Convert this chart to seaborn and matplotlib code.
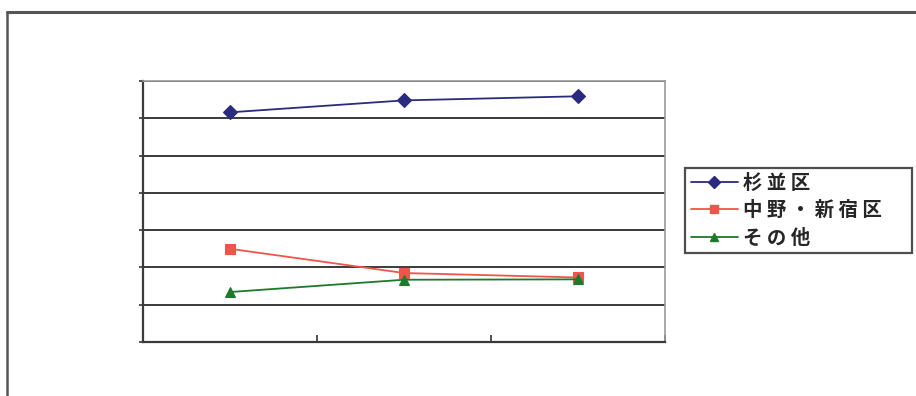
import matplotlib
matplotlib.use("Agg")
import matplotlib.pyplot as plt
from matplotlib.lines import Line2D
import seaborn as sns
import pandas as pd

# Share (%) by area across three periods
periods = ["1", "2", "3"]
suginami = [61.6, 64.8, 65.9]
nakano_shinjuku = [25.0, 18.5, 17.3]
others = [13.4, 16.7, 16.8]

series_names = ["杉 並 区", "中 野 ・ 新 宿 区", "そ の 他"]
series_values = [suginami, nakano_shinjuku, others]
colors = ["#2b2b7e", "#f0554c", "#1c7a2c"]
markers = ["D", "s", "^"]

rows = []
for name, vals in zip(series_names, series_values):
    for p, v in zip(periods, vals):
        rows.append({"period": p, "value": v, "series": name})
df = pd.DataFrame(rows)

sns.set_theme(style="white")
plt.rcParams["font.family"] = ["Noto Sans CJK JP", "DejaVu Sans"]

fig = plt.figure(figsize=(9.16, 3.96), dpi=100)
ax = fig.add_axes([143 / 916, 54 / 396, 522 / 916, 261 / 396])

sns.lineplot(
    data=df, x="period", y="value", hue="series", style="series",
    palette=colors, markers=markers, dashes=False, markersize=7,
    linewidth=1.3, markeredgewidth=0.8, ax=ax, legend=False, sort=False,
)
for line, c in zip(ax.get_lines(), colors):
    line.set_markeredgecolor(c)

ax.set_xlim(-0.5, 2.5)
ax.set_ylim(0, 70)
ax.set_yticks(range(0, 71, 10))
ax.set_xticks([0.5, 1.5, 2.5])
ax.set_xticklabels([])
ax.set_yticklabels([])
ax.set_xlabel("")
ax.set_ylabel("")
ax.tick_params(axis="y", direction="out", length=3, width=1.2, colors="#333333", left=True)
ax.tick_params(axis="x", direction="in", length=5, width=1.2, colors="#333333", bottom=True)
ax.grid(axis="y", color="#3a3a3a", linewidth=1.4)
ax.grid(axis="x", visible=False)
ax.set_axisbelow(True)
for side in ["left", "bottom"]:
    ax.spines[side].set_color("#3a3a3a")
    ax.spines[side].set_linewidth(1.6)
for side in ["top", "right"]:
    ax.spines[side].set_color("#9a9a9a")
    ax.spines[side].set_linewidth(1.2)

handles = [
    Line2D([0], [0], color=c, marker=m, markersize=6, markeredgecolor=c, linewidth=1.3)
    for c, m in zip(colors, markers)
]
leg = fig.legend(
    handles, series_names, loc="upper left", mode="expand",
    bbox_to_anchor=(685 / 916, 144 / 396, 227 / 916, 84 / 396), borderaxespad=0,
    frameon=True, fancybox=False, handlelength=2.4, handletextpad=0.3,
    labelspacing=0.42, borderpad=0.3,
    prop={"family": ["Noto Sans CJK JP", "DejaVu Sans"], "size": 14, "weight": "bold"},
)
leg.get_frame().set_edgecolor("#222222")
leg.get_frame().set_linewidth(1.6)

# Outer chart frame (top and left edges visible)
fig.add_artist(Line2D([7 / 916, 7 / 916], [0, 1 - 12 / 396], color="#555555", linewidth=1.8,
                      transform=fig.transFigure))
fig.add_artist(Line2D([7 / 916, 1], [1 - 12 / 396, 1 - 12 / 396], color="#555555", linewidth=2.2,
                      transform=fig.transFigure))

fig.savefig("out.png", dpi=100)
